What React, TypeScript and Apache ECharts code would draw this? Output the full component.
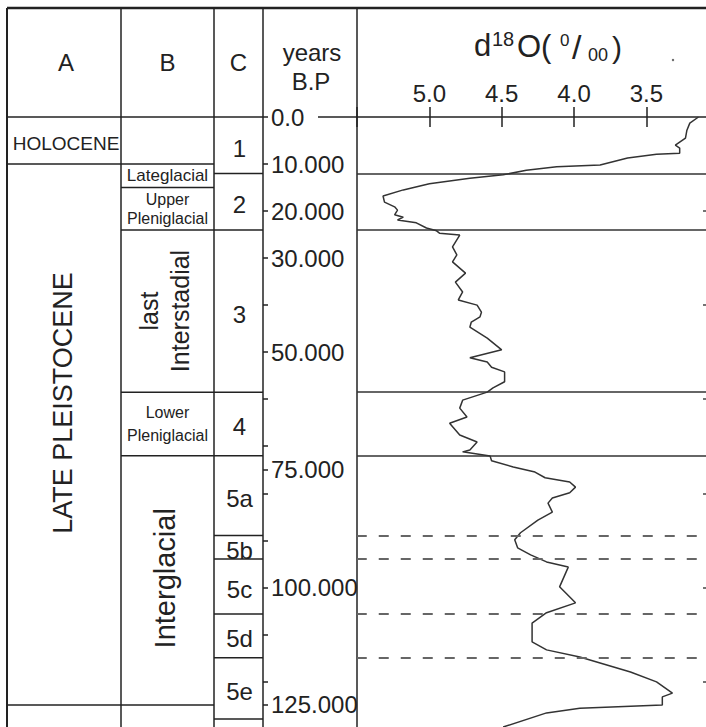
import React, { useEffect, useRef } from "react";
import * as echarts from "echarts";

// ---- data ----
// d18O record: age (years BP) and value (per mil)
const ageBP = [0,1300,2800,4500,6000,6600,7700,7900,8700,10200,10600,11300,12300,13000,14200,15500,16800,18100,19100,19800,20800,21300,21900,22500,23600,24200,24700,25100,27600,29300,30800,33200,35100,37200,38900,40000,41500,42500,43600,44700,47000,49500,51200,52100,53200,54200,56300,57600,58500,60200,61900,63800,65100,67600,69100,70800,71200,72100,73100,74400,75500,76700,77600,78700,79900,81000,82100,84000,85700,88400,89900,91600,93100,94600,95700,99900,103300,105400,107600,111600,113300,114800,118000,120100,122500,123300,125000,125700,126700,129700];
const d18O = [3.14,3.20,3.22,3.23,3.30,3.27,3.27,3.43,3.63,3.82,4.12,4.33,4.49,4.72,5.00,5.18,5.32,5.31,5.24,5.22,5.24,5.18,5.22,5.09,5.02,4.95,4.93,4.79,4.84,4.81,4.84,4.75,4.82,4.77,4.80,4.67,4.64,4.65,4.71,4.72,4.60,4.50,4.72,4.60,4.57,4.48,4.48,4.56,4.60,4.77,4.79,4.74,4.86,4.79,4.67,4.72,4.77,4.58,4.57,4.42,4.27,4.20,4.03,3.99,4.03,4.15,4.18,4.15,4.25,4.37,4.41,4.39,4.30,4.19,4.04,4.10,3.99,4.19,4.29,4.29,4.19,3.96,3.61,3.43,3.32,3.39,3.39,3.96,4.19,4.49];

// age axis ticks / labels (years BP)
const ageTicks = [0,10000,20000,30000,40000,50000,60000,70000,75000,80000,90000,100000,110000,120000,125000];
const ageLabels = [0,10000,20000,30000,50000,75000,100000,125000];
const rightTicks = [20000,40000,60000,80000,100000,120000];

// column A (epochs)
const epochNames = ["HOLOCENE", "LATE PLEISTOCENE"];
const epochBounds = [0, 10000, 125000];
// column B (sub-stages)
const subNames = ["Lateglacial", "Upper\nPleniglacial", "last\nInterstadial", "Lower\nPleniglacial", "Interglacial"];
const subBounds = [10000, 15000, 24000, 58500, 72000, 125000];
// column C (isotope stages)
const stageNames = ["1", "2", "3", "4", "5a", "5b", "5c", "5d", "5e"];
const stageBounds = [0, 12000, 24000, 58500, 72000, 89000, 94000, 105700, 115000, 128000];
// horizontal lines across the d18O panel
const solidLines = [12000, 24000, 58500, 72000];
const dashedLines = [89000, 94000, 105700, 115000];

const xTicks = [5.0, 4.5, 4.0, 3.5];

const FONT = "'Liberation Sans', Arial, Helvetica, sans-serif";
const INK = "#222";

export default function App() {
  const ref = useRef<HTMLDivElement>(null);

  useEffect(() => {
    const chart = echarts.init(ref.current!, null, { renderer: "svg" });
    const AGE_MAX = 129700;
    const option: any = {
      animation: false,
      grid: [
        { left: 357, top: 117, width: 361.75, height: 610 },
        { left: 263, top: 117, width: 93, height: 610 },
        { left: 600, top: 117, width: 108, height: 610 },
      ],
      xAxis: [
        {
          gridIndex: 0, type: "value", min: 3, max: 5.5, interval: 0.5, inverse: true, position: "top",
          axisLine: { show: true, onZero: false, lineStyle: { color: INK, width: 1.5 } },
          axisTick: { show: true, length: 10, lineStyle: { color: INK, width: 1.5 } },
          axisLabel: {
            show: true, margin: 12, fontSize: 24, fontFamily: FONT, color: INK,
            formatter: (v: number) => (xTicks.some((t) => Math.abs(t - v) < 1e-6) ? v.toFixed(1) : ""),
          },
          splitLine: { show: false },
        },
        {
          gridIndex: 0, type: "value", min: 3, max: 5.5, interval: 0.5, inverse: true, position: "top",
          axisLine: { show: false, onZero: false },
          axisTick: { show: true, inside: true, length: 10, lineStyle: { color: INK, width: 1.5 } },
          axisLabel: { show: false },
          splitLine: { show: false },
        },
        { gridIndex: 1, type: "value", min: 0, max: 1, show: false },
        { gridIndex: 2, type: "value", min: 0, max: 1, show: false },
      ],
      yAxis: [
        { gridIndex: 0, type: "value", min: 0, max: AGE_MAX, inverse: true, show: false },
        {
          gridIndex: 1, type: "value", min: 0, max: AGE_MAX, inverse: true, position: "left",
          axisLine: { show: false, onZero: false },
          axisTick: { show: true, inside: true, length: 5, customValues: ageTicks, lineStyle: { color: INK, width: 1.5 } },
          axisLabel: {
            show: true, inside: true, margin: 8, customValues: ageLabels, fontSize: 24, fontFamily: FONT, color: INK,
            formatter: (v: number) => (v === 0 ? "0.0" : (v / 1000).toFixed(3)),
          },
          splitLine: { show: false },
        },
        {
          gridIndex: 2, type: "value", min: 0, max: AGE_MAX, inverse: true, position: "right",
          axisLine: { show: false, onZero: false },
          axisTick: { show: true, inside: true, length: 5, customValues: rightTicks, lineStyle: { color: "#444", width: 1.5 } },
          axisLabel: { show: false },
          splitLine: { show: false },
        },
      ],
      series: [
        {
          type: "line",
          xAxisIndex: 0,
          yAxisIndex: 0,
          data: ageBP.map((a, i) => [d18O[i], a]),
          showSymbol: false,
          symbol: "none",
          lineStyle: { color: "#333", width: 1.5 },
          markLine: {
            silent: true,
            symbol: ["none", "none"],
            label: { show: false },
            data: [
              ...solidLines.map((v) => ({ yAxis: v, lineStyle: { type: "solid", color: "#333", width: 1.5 } })),
              ...dashedLines.map((v) => ({ yAxis: v, lineStyle: { type: [10, 12], color: "#666", width: 2 } })),
            ],
          },
        },
      ],
    };
    chart.setOption(option);

    const py = (age: number) => chart.convertToPixel({ yAxisIndex: 1 } as any, age) as number;

    const X0 = 7, XA = 121, XB = 214, XC = 263, XD = 357, XR = 720, YTOP = 8, YH = 117, YB = 727;
    const line = (x1: number, y1: number, x2: number, y2: number, w = 1.5) => ({
      type: "line", silent: true, shape: { x1, y1, x2, y2 }, style: { stroke: INK, lineWidth: w },
    });
    const text = (t: string, x: number, y: number, size: number, extra: any = {}, rot = 0) => ({
      type: "text", silent: true, x, y, rotation: rot,
      style: { text: t, fontSize: size, fontFamily: FONT, fill: INK, align: "center", verticalAlign: "middle", ...extra },
    });

    const g: any[] = [];
    // frame and column separators
    g.push(line(X0, YTOP, XR, YTOP, 2.5));
    g.push(line(X0, YTOP, X0, YB, 2));
    g.push(line(XA, YTOP, XA, YB));
    g.push(line(XB, YTOP, XB, YB));
    g.push(line(XC, YTOP, XC, YB));
    g.push(line(XD, YTOP, XD, YB));
    // header bottom
    g.push(line(X0, YH, XC, YH));
    g.push(line(318, YH, XD, YH));
    // column A rows
    epochBounds.slice(1).forEach((b) => g.push(line(X0, py(b), XA, py(b))));
    // column B rows
    subBounds.forEach((b) => g.push(line(XA, py(b), XB, py(b))));
    // column C rows
    stageBounds.slice(1).forEach((b) => g.push(line(XB, py(b), XC, py(b))));

    // header texts
    g.push(text("A", (X0 + XA) / 2 + 2, 62, 24));
    g.push(text("B", (XA + XB) / 2, 62, 24));
    g.push(text("C", (XB + XC) / 2, 62, 24));
    g.push(text("years", 312, 52, 24));
    g.push(text("B.P", 311, 81, 24));

    // title d18O(0/00)
    g.push(text("d", 474, 45, 31, { align: "left" }));
    g.push(text("18", 492, 39, 20, { align: "left" }));
    g.push(text("O(", 517, 46, 31, { align: "left" }));
    g.push(text("0", 560, 40, 17, { align: "left" }));
    g.push(text("/", 572, 47, 34, { align: "left" }));
    g.push(text("00", 588, 55, 18, { align: "left" }));
    g.push(text(")", 612, 47, 30, { align: "left" }));
    g.push({ type: "circle", silent: true, shape: { cx: 673, cy: 60, r: 1.2 }, style: { fill: "#666" } });

    // column A labels
    g.push(text(epochNames[0], (X0 + XA) / 2 + 2, (py(epochBounds[0]) + py(epochBounds[1])) / 2 + 3, 19));
    g.push(text(epochNames[1], 63, 403, 27, {}, Math.PI / 2));

    // column B labels
    const subCenter = (i: number) => (py(subBounds[i]) + py(subBounds[i + 1])) / 2;
    const bx = (XA + XB) / 2;
    g.push(text(subNames[0], bx, subCenter(0), 17));
    g.push(text(subNames[1], bx, subCenter(1), 16, { lineHeight: 19 }));
    g.push(text(subNames[2], 164, subCenter(2), 25, { lineHeight: 31 }, Math.PI / 2));
    g.push(text(subNames[3], bx, subCenter(3), 16, { lineHeight: 23 }));
    g.push(text(subNames[4], 165, subCenter(4) - 2, 29, {}, Math.PI / 2));

    // column C labels
    stageNames.forEach((s, i) => {
      const yc = (py(stageBounds[i]) + py(stageBounds[i + 1])) / 2 + 3;
      g.push(text(s, (XB + XC) / 2 + 1, yc, 24));
    });

    chart.setOption({ graphic: g });

    return () => chart.dispose();
  }, []);

  return (
    <div style={{ position: "fixed", left: 0, top: 0, width: 706, height: 727, overflow: "hidden", background: "#fff" }}>
      <div ref={ref} style={{ width: 722, height: 727 }} />
    </div>
  );
}
